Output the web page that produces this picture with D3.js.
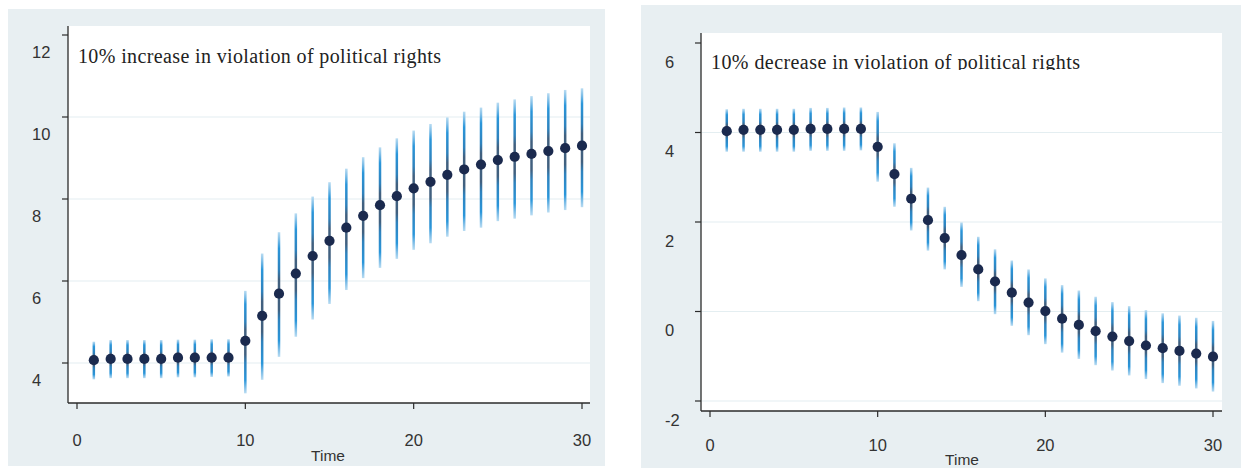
<!DOCTYPE html>
<html>
<head>
<meta charset="utf-8">
<script src="https://cdn.jsdelivr.net/npm/d3@7"></script>
<style>
    body { margin: 0; background: #fff; }
    svg { display: block; }
    .tick-label { font-family: "Liberation Sans", Arial, sans-serif; font-size: 16.5px; fill: #333; }
    .title { font-family: "Liberation Serif", "Times New Roman", serif; font-size: 20px; fill: #222; }
</style>
</head>
<body>
<div id="chart"></div>
<script>
'use strict';

// data
var time = [1, 2, 3, 4, 5, 6, 7, 8, 9, 10, 11, 12, 13, 14, 15, 16, 17, 18, 19, 20, 21, 22, 23, 24, 25, 26, 27, 28, 29, 30];
var xTicks = [0, 10, 20, 30];

var incTitle = "10% increase in violation of political rights";
var incYTicks = [4, 6, 8, 10, 12];
var incEst = [4.07, 4.10, 4.10, 4.10, 4.10, 4.13, 4.13, 4.13, 4.13, 4.54, 5.15, 5.69, 6.18, 6.61, 6.98,
              7.30, 7.59, 7.85, 8.07, 8.26, 8.42, 8.59, 8.72, 8.84, 8.95, 9.03, 9.10, 9.17, 9.24, 9.30];
var incHi = [4.52, 4.56, 4.56, 4.56, 4.56, 4.57, 4.57, 4.58, 4.58, 5.76, 6.67, 7.19, 7.65, 8.06, 8.41,
             8.74, 9.02, 9.26, 9.48, 9.67, 9.83, 9.99, 10.13, 10.23, 10.35, 10.43, 10.51, 10.58, 10.66, 10.70];
var incLo = [3.60, 3.63, 3.63, 3.63, 3.63, 3.65, 3.65, 3.66, 3.67, 3.26, 3.59, 4.15, 4.64, 5.06, 5.44,
             5.78, 6.07, 6.32, 6.54, 6.76, 6.92, 7.08, 7.22, 7.30, 7.46, 7.52, 7.60, 7.67, 7.73, 7.80];

var decTitle = "10% decrease in violation of political rights";
var decYTicks = [-2, 0, 2, 4, 6];
var decEst = [4.03, 4.06, 4.06, 4.06, 4.06, 4.08, 4.08, 4.08, 4.08, 3.68, 3.07, 2.52, 2.04, 1.64, 1.26,
              0.94, 0.67, 0.42, 0.20, 0.01, -0.16, -0.30, -0.44, -0.56, -0.66, -0.76, -0.82, -0.88, -0.94, -1.01];
var decHi = [4.52, 4.53, 4.53, 4.53, 4.53, 4.55, 4.55, 4.56, 4.56, 4.46, 3.76, 3.21, 2.77, 2.34, 1.99,
             1.67, 1.39, 1.14, 0.94, 0.74, 0.59, 0.47, 0.33, 0.21, 0.12, 0.03, -0.04, -0.09, -0.14, -0.21];
var decLo = [3.57, 3.57, 3.57, 3.57, 3.57, 3.59, 3.59, 3.59, 3.60, 2.90, 2.34, 1.81, 1.36, 0.94, 0.55,
             0.23, -0.06, -0.32, -0.53, -0.73, -0.92, -1.06, -1.20, -1.32, -1.43, -1.51, -1.60, -1.66, -1.72, -1.79];

var W = 1241, H = 468;

var svg = d3.select("#chart")
    .append("svg")
    .attr("width", W)
    .attr("height", H);

// gradient for the interval bars (light tips, blue, dark core)
var grad = svg.append("defs")
    .append("linearGradient")
    .attr("id", "ciGrad")
    .attr("x1", 0).attr("y1", 0)
    .attr("x2", 0).attr("y2", 1);
[[0, "#b9dcf2"], [0.06, "#7dbde7"], [0.13, "#2a96da"], [0.3, "#2e82bd"], [0.38, "#41607f"],
 [0.62, "#41607f"], [0.7, "#2e82bd"], [0.87, "#2a96da"], [0.94, "#7dbde7"], [1, "#b9dcf2"]]
    .forEach(function (s) {
        grad.append("stop").attr("offset", s[0]).attr("stop-color", s[1]);
    });

var panels = [
    {
        title: incTitle, est: incEst, lo: incLo, hi: incHi, yTicks: incYTicks,
        bg: [8, 9, 597, 457], plot: [68, 26, 590, 403],
        x0: 77, x30: 582, yDomain: [4, 12], yRange: [363, 35],
        labelX: 32, labelDy: 17, xLabelY: 446, timeX: 328, timeY: 461,
        titleX: 78, titleY: 63, titleW: 363, clipTitle: null
    },
    {
        title: decTitle, est: decEst, lo: decLo, hi: decHi, yTicks: decYTicks,
        bg: [641, 5, 600, 463], plot: [701, 33, 1222, 411],
        x0: 710, x30: 1213, yDomain: [-2, 6], yRange: [401, 43],
        labelX: 665, labelDy: 19, xLabelY: 451, timeX: 962, timeY: 465,
        titleX: 711, titleY: 69, titleW: 369, clipTitle: 70
    }
];

panels.forEach(function (p, pi) {
    var g = svg.append("g");

    // panel background + plot region
    g.append("rect")
        .attr("x", p.bg[0]).attr("y", p.bg[1])
        .attr("width", p.bg[2]).attr("height", p.bg[3])
        .attr("fill", "#e8eff2");
    g.append("rect")
        .attr("x", p.plot[0]).attr("y", p.plot[1])
        .attr("width", p.plot[2] - p.plot[0]).attr("height", p.plot[3] - p.plot[1])
        .attr("fill", "#fff");

    var xScale = d3.scaleLinear().domain([0, 30]).range([p.x0, p.x30]);
    var yScale = d3.scaleLinear().domain(p.yDomain).range(p.yRange);

    // gridlines (not at the top tick)
    g.selectAll(".grid")
        .data(p.yTicks.filter(function (d) { return d < p.yDomain[1]; }))
        .enter().append("line")
        .attr("x1", p.plot[0]).attr("x2", p.plot[2])
        .attr("y1", function (d) { return yScale(d); })
        .attr("y2", function (d) { return yScale(d); })
        .attr("stroke", "#e4eef1")
        .attr("stroke-width", 1.2);

    // y axis
    g.append("line")
        .attr("x1", p.plot[0]).attr("x2", p.plot[0])
        .attr("y1", p.plot[1]).attr("y2", p.plot[3])
        .attr("stroke", "#2b2b2b").attr("stroke-width", 1.3);
    g.selectAll(".ytick")
        .data(p.yTicks)
        .enter().append("line")
        .attr("x1", p.plot[0] - 6).attr("x2", p.plot[0])
        .attr("y1", function (d) { return yScale(d); })
        .attr("y2", function (d) { return yScale(d); })
        .attr("stroke", "#2b2b2b").attr("stroke-width", 1.2);
    g.selectAll(".ylab")
        .data(p.yTicks)
        .enter().append("text")
        .attr("class", "tick-label")
        .attr("x", p.labelX)
        .attr("y", function (d) { return yScale(d) + p.labelDy; })
        .attr("dy", "0.36em")
        .text(function (d) { return d; });

    // x axis
    g.append("line")
        .attr("x1", p.plot[0]).attr("x2", p.plot[2])
        .attr("y1", p.plot[3]).attr("y2", p.plot[3])
        .attr("stroke", "#2b2b2b").attr("stroke-width", 1.3);
    g.selectAll(".xtick")
        .data(xTicks)
        .enter().append("line")
        .attr("x1", function (d) { return xScale(d); })
        .attr("x2", function (d) { return xScale(d); })
        .attr("y1", p.plot[3]).attr("y2", p.plot[3] + 6)
        .attr("stroke", "#2b2b2b").attr("stroke-width", 1.2);
    g.selectAll(".xlab")
        .data(xTicks)
        .enter().append("text")
        .attr("class", "tick-label")
        .attr("x", function (d) { return xScale(d); })
        .attr("y", p.xLabelY)
        .style("text-anchor", "middle")
        .text(function (d) { return d; });

    g.append("text")
        .attr("class", "tick-label")
        .attr("x", p.timeX)
        .attr("y", p.timeY)
        .style("text-anchor", "middle")
        .style("font-size", "15.5px")
        .text("Time");

    // title inside the plot, the second one is cut at the bottom
    var title = g.append("text")
        .attr("class", "title")
        .attr("x", p.titleX)
        .attr("y", p.titleY)
        .attr("textLength", p.titleW)
        .attr("lengthAdjust", "spacing")
        .text(p.title);
    if (p.clipTitle) {
        svg.select("defs").append("clipPath")
            .attr("id", "titleClip" + pi)
            .append("rect")
            .attr("x", p.plot[0]).attr("y", p.plot[1])
            .attr("width", p.plot[2] - p.plot[0])
            .attr("height", p.clipTitle - p.plot[1]);
        title.attr("clip-path", "url(#titleClip" + pi + ")");
    }

    // confidence bars
    var bw = 2.5;
    g.selectAll(".ci")
        .data(time)
        .enter().append("rect")
        .attr("x", function (d) { return xScale(d) - bw / 2; })
        .attr("y", function (d, i) { return yScale(p.hi[i]); })
        .attr("width", bw)
        .attr("height", function (d, i) { return yScale(p.lo[i]) - yScale(p.hi[i]); })
        .attr("fill", "url(#ciGrad)");

    // point estimates
    g.selectAll(".pt")
        .data(time)
        .enter().append("circle")
        .attr("cx", function (d) { return xScale(d); })
        .attr("cy", function (d, i) { return yScale(p.est[i]); })
        .attr("r", 5.1)
        .attr("fill", "#1b2a4e");
});
</script>
</body>
</html>
